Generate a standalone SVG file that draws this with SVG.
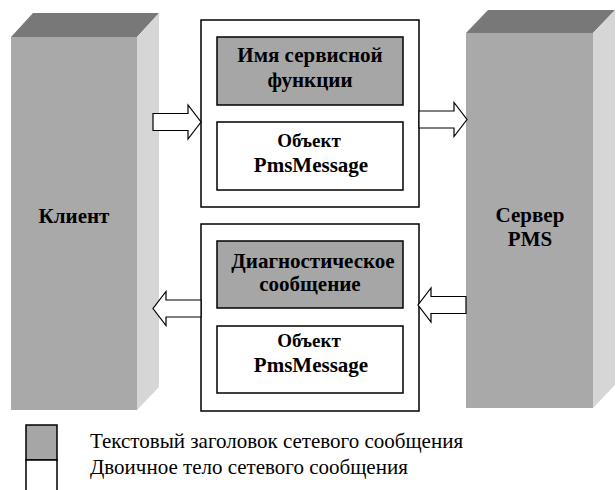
<svg xmlns="http://www.w3.org/2000/svg" width="616" height="490" viewBox="0 0 616 490">
  <defs>
    <!-- shared block arrow, pointing right, tip at origin -->
    <polygon id="arrowR" points="-48,-8.5 -13,-8.5 -13,-17 0,0 -13,17 -13,8.5 -48,8.5" fill="#ffffff" stroke="#000000" stroke-width="1.2"/>
  </defs>

  <!-- Client block (3D column) -->
  <g id="client">
    <polygon points="11,37 33,13 159,13 137,37" fill="#787878"/>
    <polygon points="137,37 159,13 159,387 137,410" fill="#d6d6d6"/>
    <rect x="11" y="37" width="126" height="373" fill="#a9a9a9"/>
    <text x="74" y="223" font-family="Liberation Serif" font-weight="bold" font-size="21" text-anchor="middle">Клиент</text>
  </g>

  <!-- PMS server block (3D column) -->
  <g id="server">
    <polygon points="466,33 488,10 615,10 593,33" fill="#787878"/>
    <polygon points="593,33 615,10 615,385 593,408" fill="#d6d6d6"/>
    <rect x="466" y="33" width="127" height="375" fill="#a9a9a9"/>
    <text x="530" y="222" font-family="Liberation Serif" font-weight="bold" font-size="21" text-anchor="middle">Сервер</text>
    <text x="530" y="246" font-family="Liberation Serif" font-weight="bold" font-size="21" text-anchor="middle">PMS</text>
  </g>

  <!-- Request message -->
  <g id="request" stroke="#000000" stroke-width="1.5">
    <rect x="201" y="20" width="218" height="187" fill="#ffffff"/>
    <rect x="217" y="37" width="186" height="68" fill="#a6a6a6"/>
    <rect x="217" y="122" width="186" height="68" fill="#ffffff"/>
    <g stroke="none" font-family="Liberation Serif" font-weight="bold" text-anchor="middle">
      <text x="310" y="62" font-size="21">Имя сервисной</text>
      <text x="310" y="87" font-size="21">функции</text>
      <text x="309" y="147" font-size="19">Объект</text>
      <text x="311" y="172" font-size="21">PmsMessage</text>
    </g>
  </g>

  <!-- Response message -->
  <g id="response" stroke="#000000" stroke-width="1.5">
    <rect x="201" y="224" width="218" height="187" fill="#ffffff"/>
    <rect x="217" y="241" width="186" height="67" fill="#a6a6a6"/>
    <rect x="217" y="326" width="186" height="67" fill="#ffffff"/>
    <g stroke="none" font-family="Liberation Serif" font-weight="bold" text-anchor="middle">
      <text x="313" y="268" font-size="21">Диагностическое</text>
      <text x="310" y="291" font-size="21">сообщение</text>
      <text x="309" y="347" font-size="19">Объект</text>
      <text x="311" y="372" font-size="21">PmsMessage</text>
    </g>
  </g>

  <!-- Block arrows between client, messages and server -->
  <g id="connectors">
    <use href="#arrowR" transform="translate(201,122)"/>
    <use href="#arrowR" transform="translate(467,119.5)"/>
    <use href="#arrowR" transform="translate(418,305) scale(-1,1)"/>
    <use href="#arrowR" transform="translate(153,308.5) scale(-1,1)"/>
  </g>

  <!-- Legend -->
  <g id="legend">
    <rect x="26" y="425" width="31" height="35" fill="#a6a6a6" stroke="#000000" stroke-width="1.5"/>
    <rect x="26" y="460" width="31" height="36" fill="#ffffff" stroke="#000000" stroke-width="1.5"/>
    <text x="90" y="448" font-family="Liberation Serif" font-size="21">Текстовый заголовок сетевого сообщения</text>
    <text x="90" y="474" font-family="Liberation Serif" font-size="21">Двоичное тело сетевого сообщения</text>
  </g>
</svg>
